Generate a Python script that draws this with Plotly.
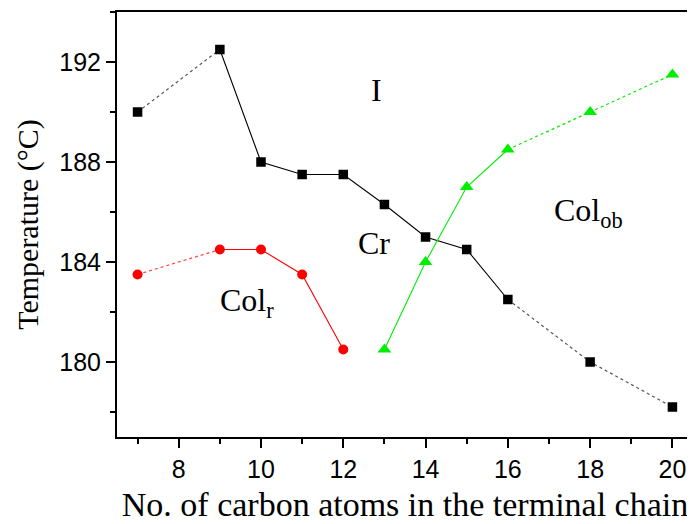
import plotly.graph_objects as go

# ---- data ----
carbons_black = [7, 9, 10, 11, 12, 13, 14, 15, 16, 18, 20]
temp_black = [190.0, 192.5, 188.0, 187.5, 187.5, 186.3, 185.0, 184.5, 182.5, 180.0, 178.2]

carbons_red = [7, 9, 10, 11, 12]
temp_red = [183.5, 184.5, 184.5, 183.5, 180.5]

carbons_green = [13, 14, 15, 16, 18, 20]
temp_green = [180.5, 184.0, 187.0, 188.5, 190.0, 191.5]

x_ticks = [8, 10, 12, 14, 16, 18, 20]
y_ticks = [180, 184, 188, 192]

fig = go.Figure()


def add_series(xs, ys, color, symbol, size, dotted_left, dotted_right, dot_color):
    if dotted_left:
        i0 = xs.index(dotted_left[0]); i1 = xs.index(dotted_left[1])
        fig.add_trace(go.Scatter(x=xs[i0:i1 + 1], y=ys[i0:i1 + 1], mode="lines",
                                 line=dict(color=dot_color, width=1.2, dash="dot"),
                                 showlegend=False, hoverinfo="skip"))
    lo = xs.index(dotted_left[1]) if dotted_left else 0
    hi = xs.index(dotted_right[0]) if dotted_right else len(xs) - 1
    fig.add_trace(go.Scatter(x=xs[lo:hi + 1], y=ys[lo:hi + 1], mode="lines",
                             line=dict(color=color, width=1.1),
                             showlegend=False, hoverinfo="skip"))
    if dotted_right:
        i0 = xs.index(dotted_right[0]); i1 = xs.index(dotted_right[1])
        fig.add_trace(go.Scatter(x=xs[i0:i1 + 1], y=ys[i0:i1 + 1], mode="lines",
                                 line=dict(color=dot_color, width=1.2, dash="dot"),
                                 showlegend=False, hoverinfo="skip"))
    fig.add_trace(go.Scatter(x=xs, y=ys, mode="markers",
                             marker=dict(color=color, symbol=symbol, size=size,
                                         line=dict(width=0)),
                             showlegend=False))


add_series(carbons_black, temp_black, "#000000", "square", 9.5, (7, 9), (16, 20), "#555555")
add_series(carbons_red, temp_red, "#ff0000", "circle", 10, (7, 9), None, "#ff4444")
add_series(carbons_green, temp_green, "#00ee00", "triangle-up", 12, None, (16, 20), "#00ee00")

serif = "Liberation Serif, Times New Roman, serif"
sans = "Liberation Sans, Arial, sans-serif"

annos = [
    dict(x=12.8, y=190.9, text="I"),
    dict(x=12.75, y=184.75, text="Cr"),
    dict(x=9.65, y=182.4, text="Col<sub>r</sub>"),
    dict(x=17.95, y=186.0, text="Col<sub>ob</sub>"),
]
for a in annos:
    fig.add_annotation(x=a["x"], y=a["y"], text=a["text"], showarrow=False,
                       font=dict(family=serif, size=32, color="black"))

axis_common = dict(showgrid=False, zeroline=False, showline=True, linecolor="black",
                   linewidth=2, mirror=True, ticks="outside", ticklen=9, tickwidth=1.5,
                   tickcolor="black", tickfont=dict(family=sans, size=25, color="black"))

fig.update_xaxes(range=[6.5, 20.5], tickvals=x_ticks,
                 minor=dict(dtick=1, tick0=7, ticks="outside", ticklen=5, tickwidth=1.5,
                            tickcolor="black"),
                 title=dict(text="No. of carbon atoms in the terminal chain",
                            font=dict(family=serif, size=34, color="black"), standoff=10),
                 **axis_common)
fig.update_yaxes(range=[177, 194], tickvals=y_ticks,
                 minor=dict(dtick=2, tick0=178, ticks="outside", ticklen=5, tickwidth=1.5,
                            tickcolor="black"),
                 title=dict(text="Temperature (°C)",
                            font=dict(family=serif, size=30, color="black"), standoff=12),
                 **axis_common)

# page body has an 8px margin, so the figure is sized/offset to compensate
fig.update_layout(width=687, height=516, margin=dict(l=109, r=0, t=4, b=87),
                  plot_bgcolor="white", paper_bgcolor="white", showlegend=False)

fig.write_html("out.html")
